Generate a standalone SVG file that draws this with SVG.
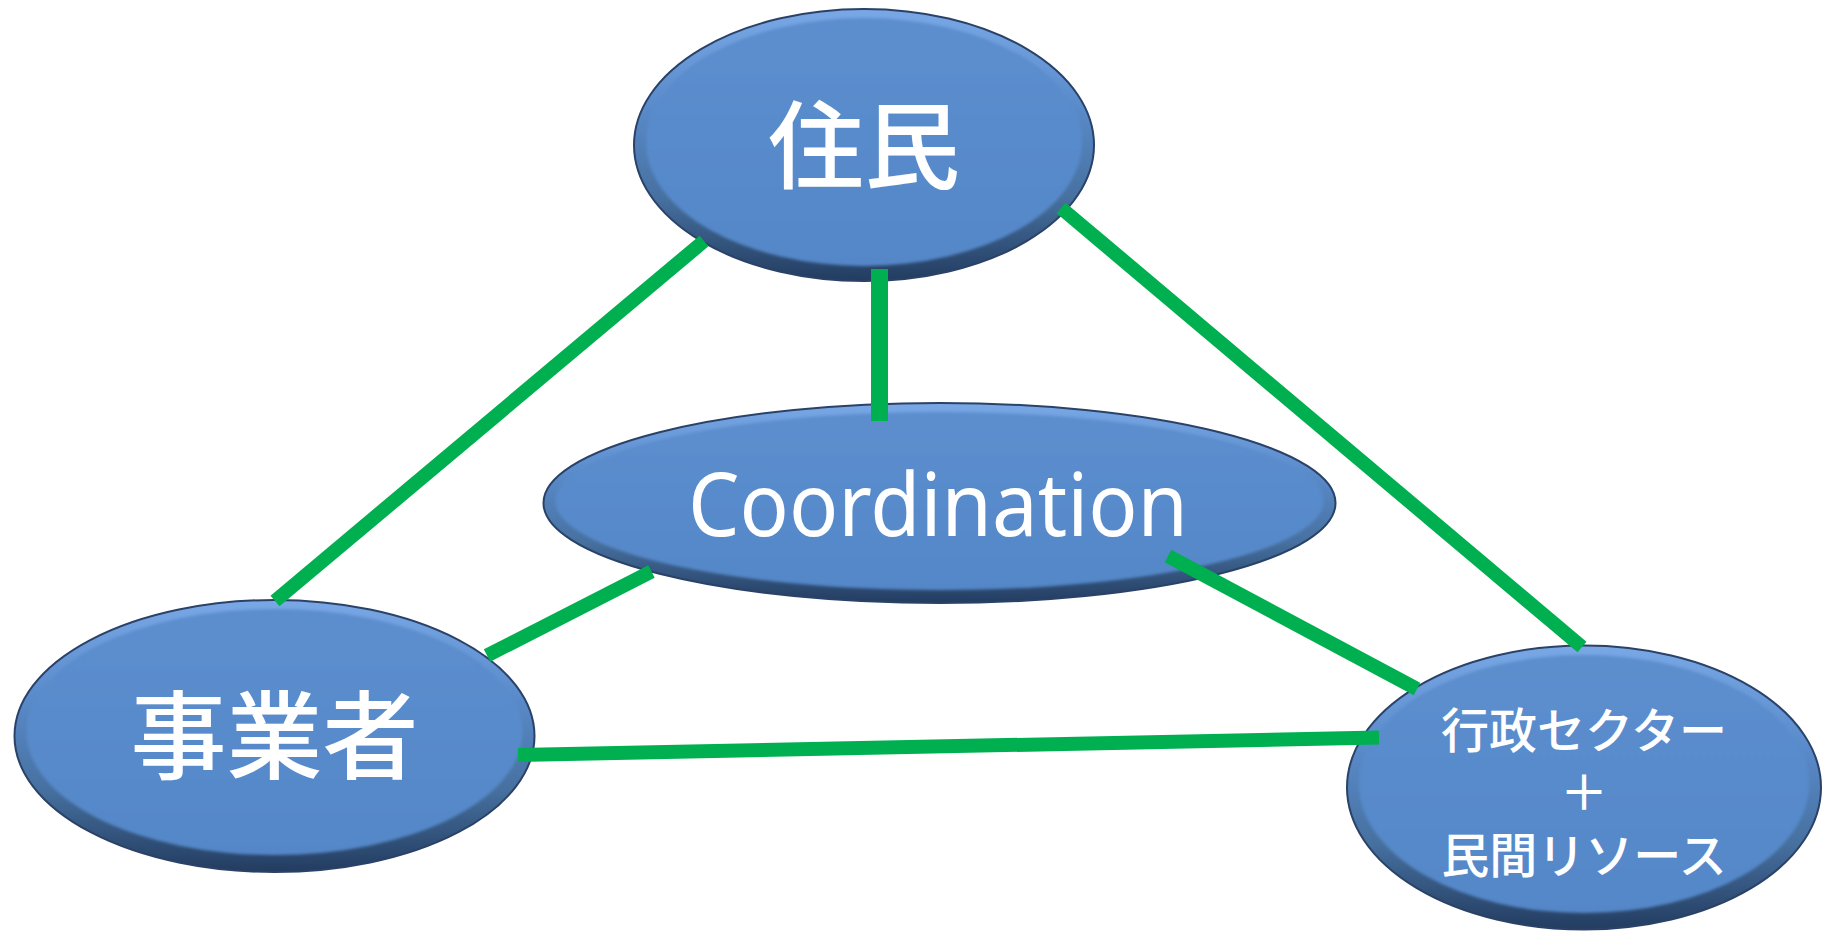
<svg xmlns="http://www.w3.org/2000/svg" width="1823" height="932" viewBox="0 0 1823 932">
<style>
.rim{fill:url(#rimGrad);stroke:#2A4267;stroke-width:2}
.face{fill:url(#faceGrad);filter:url(#soft)}
.jp{fill:#FFFFFF;font-family:"Noto Sans CJK JP","Noto Sans CJK SC",sans-serif;text-anchor:middle;font-weight:500}
.en{fill:#FFFFFF;font-family:"Noto Sans","Open Sans",sans-serif;text-anchor:middle}
.conn line{stroke:#00B050;stroke-width:14;stroke-linecap:butt}
</style>
<defs>
<linearGradient id="rimGrad" x1="0" y1="0" x2="0" y2="1">
<stop offset="0" stop-color="#7AA8E6"/>
<stop offset="0.35" stop-color="#5A8BCB"/>
<stop offset="0.7" stop-color="#46709F"/>
<stop offset="1" stop-color="#233C60"/>
</linearGradient>
<linearGradient id="faceGrad" x1="0" y1="0" x2="0" y2="1">
<stop offset="0" stop-color="#5C8ECE"/>
<stop offset="1" stop-color="#5487C8"/>
</linearGradient>
<filter id="soft" x="-5%" y="-5%" width="110%" height="110%">
<feGaussianBlur stdDeviation="1.5"/>
</filter>
</defs>
<rect width="1823" height="932" fill="#FFFFFF"/>
<g id="node-jumin">
<ellipse class="rim" cx="864" cy="145" rx="230" ry="136"/>
<ellipse class="face" cx="864" cy="142" rx="218" ry="124"/>
<text class="jp" x="864" y="181" font-size="96">住民</text>
</g>
<g id="node-coordination">
<ellipse class="rim" cx="939.5" cy="503" rx="396" ry="100"/>
<ellipse class="face" cx="939.5" cy="501" rx="384" ry="89"/>
<text class="en" x="938" y="536" font-size="88" textLength="500" lengthAdjust="spacingAndGlyphs">Coordination</text>
</g>
<g id="node-jigyosha">
<ellipse class="rim" cx="274.5" cy="736" rx="260" ry="136"/>
<ellipse class="face" cx="274.5" cy="732" rx="248" ry="123"/>
<text class="jp" x="274.5" y="771" font-size="96">事業者</text>
</g>
<g id="node-gyosei">
<ellipse class="rim" cx="1584" cy="787.5" rx="237" ry="142"/>
<ellipse class="face" cx="1584" cy="784" rx="225" ry="129"/>
<text class="jp" font-size="48"><tspan x="1584" y="748">行政セクター</tspan><tspan x="1584" y="810">＋</tspan><tspan x="1584" y="873">民間リソース</tspan></text>
</g>
<g id="connectors" class="conn">
<line x1="704" y1="241" x2="275" y2="601"/>
<line x1="879.5" y1="269" x2="879.5" y2="421" style="stroke-width:17"/>
<line x1="1061" y1="208" x2="1582" y2="647"/>
<line x1="651.5" y1="571.5" x2="487" y2="655.5"/>
<line x1="1168" y1="556" x2="1417" y2="689"/>
<line x1="518" y1="755" x2="1379" y2="737.5"/>
</g>
</svg>
